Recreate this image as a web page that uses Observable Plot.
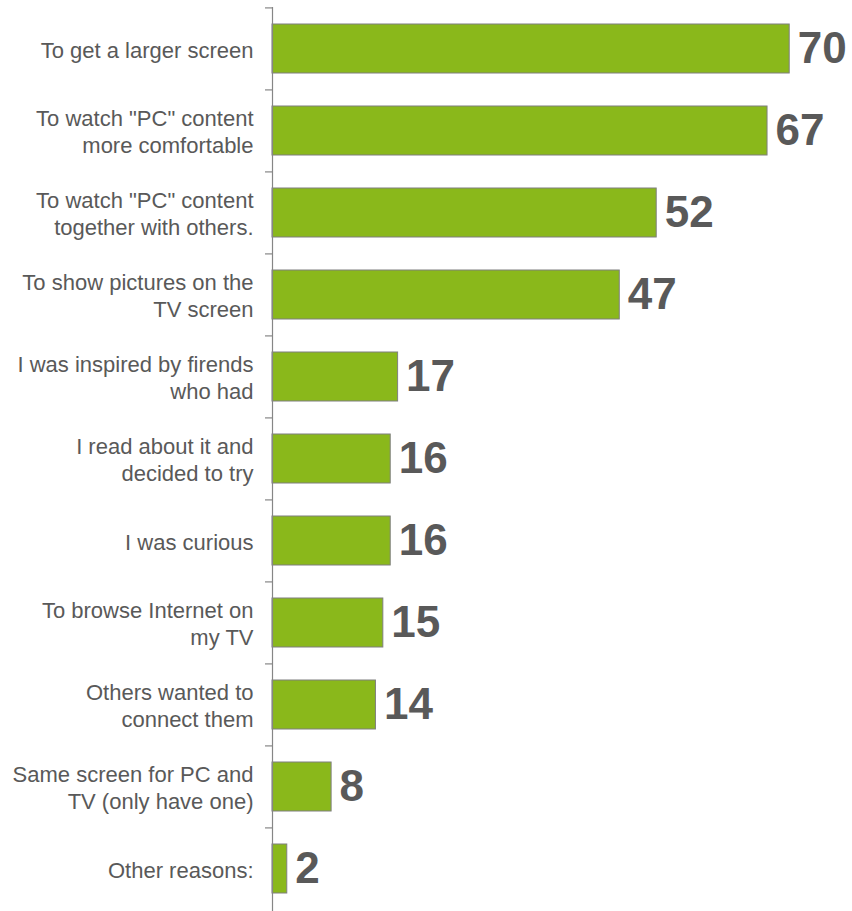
<!DOCTYPE html>
<html>
<head>
<meta charset="utf-8">
<script src="https://cdn.jsdelivr.net/npm/d3@7"></script>
<script src="https://cdn.jsdelivr.net/npm/@observablehq/plot@0.6"></script>
<style>
  html, body { margin: 0; padding: 0; background: #fff; }
</style>
</head>
<body>
<div id="chart"></div>
<script>
const categories = [
  "To get a larger screen",
  "To watch \"PC\" content\nmore comfortable",
  "To watch \"PC\" content\ntogether with others.",
  "To show pictures on the\nTV screen",
  "I was inspired by firends\nwho had",
  "I read about it and\ndecided to try",
  "I was curious",
  "To browse Internet on\nmy TV",
  "Others wanted to\nconnect them",
  "Same screen for PC and\nTV (only have one)",
  "Other reasons:"
];
const values = [70, 67, 52, 47, 17, 16, 16, 15, 14, 8, 2];

const data = categories.map((c, i) => ({category: c, value: values[i]}));

const W = 852, H = 911, mTop = 7, mBottom = 0;
const step = (H - mTop - mBottom) / categories.length;

const chart = Plot.plot({
  width: W,
  height: H,
  marginTop: mTop,
  marginBottom: mBottom,
  marginLeft: 272,
  marginRight: 0,
  style: {fontFamily: "Arial, 'Liberation Sans', sans-serif", background: "#fff"},
  x: {domain: [0, 78.5], axis: null},
  y: {domain: categories, paddingInner: 0.4, paddingOuter: 0.2, label: null},
  marks: [
    Plot.barX(data, {
      x: "value", y: "category",
      fill: "#8ab81b", stroke: "#7f7f7f", strokeWidth: 1
    }),
    Plot.ruleX([0], {stroke: "#868686", strokeWidth: 1.2}),
    Plot.axisY({
      tickSize: 7, text: null, stroke: "#868686", strokeWidth: 1.2, dy: -step / 2
    }),
    Plot.axisY({
      tickSize: 0, tickPadding: 19, fontSize: 22, lineHeight: 1.23,
      fill: "#595959", label: null
    }),
    Plot.text(data, {
      x: "value", y: "category", text: d => String(d.value),
      textAnchor: "start", dx: 8, fontSize: 44, fontWeight: "bold",
      fill: "#595959"
    })
  ]
});

document.getElementById("chart").appendChild(chart);
</script>
</body>
</html>
